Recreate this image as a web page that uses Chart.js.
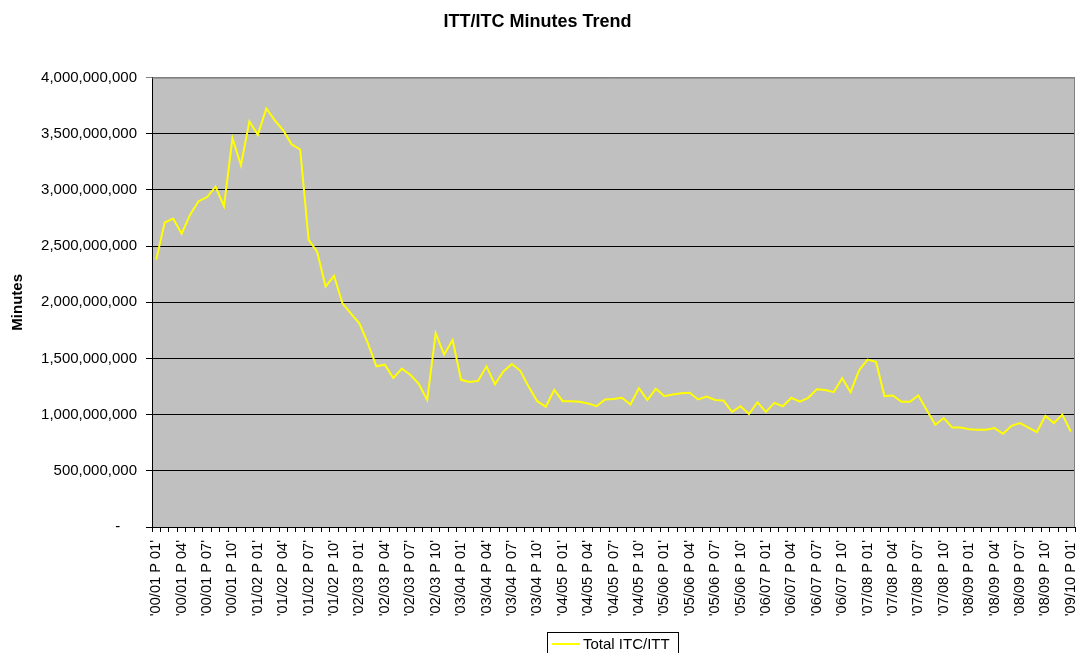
<!DOCTYPE html>
<html>
<head>
<meta charset="utf-8">
<title>ITT/ITC Minutes Trend</title>
<script src="https://cdn.jsdelivr.net/npm/chart.js@4"></script>
<style>
  html, body { margin: 0; padding: 0; background: #fff; }
  canvas { display: block; }
</style>
</head>
<body>
<canvas id="minutesChart" width="1077" height="653"></canvas>
<script>
// fiscal years, 12 periods each (last year only has P 01 so far)
const fiscalYears = ["00/01", "01/02", "02/03", "03/04", "04/05", "05/06", "06/07", "07/08", "08/09", "09/10"];
const periodNumbers = ["01", "02", "03", "04", "05", "06", "07", "08", "09", "10", "11", "12"];

// total ITC/ITT minutes per period
const totalMinutes = [
  2380e6, 2710e6, 2745e6, 2610e6, 2780e6, 2900e6, 2935e6, 3030e6, 2855e6, 3460e6, 3220e6, 3610e6,
  3490e6, 3725e6, 3620e6, 3530e6, 3405e6, 3360e6, 2555e6, 2450e6, 2140e6, 2235e6, 1990e6, 1900e6,
  1810e6, 1635e6, 1430e6, 1445e6, 1325e6, 1410e6, 1355e6, 1275e6, 1130e6, 1725e6, 1535e6, 1665e6,
  1310e6, 1290e6, 1300e6, 1430e6, 1270e6, 1385e6, 1450e6, 1390e6, 1245e6, 1120e6, 1070e6, 1220e6,
  1120e6, 1120e6, 1115e6, 1100e6, 1075e6, 1135e6, 1140e6, 1150e6, 1090e6, 1235e6, 1130e6, 1230e6,
  1165e6, 1180e6, 1190e6, 1195e6, 1135e6, 1160e6, 1130e6, 1125e6, 1025e6, 1075e6, 1005e6, 1110e6,
  1025e6, 1105e6, 1075e6, 1150e6, 1115e6, 1150e6, 1225e6, 1220e6, 1200e6, 1325e6, 1200e6, 1395e6,
  1490e6, 1470e6, 1165e6, 1170e6, 1115e6, 1115e6, 1170e6, 1040e6, 910e6, 970e6, 885e6, 885e6,
  870e6, 865e6, 865e6, 880e6, 830e6, 900e6, 925e6, 885e6, 845e6, 990e6, 925e6, 1000e6,
  850e6
];

const yTicks = [0, 500e6, 1000e6, 1500e6, 2000e6, 2500e6, 3000e6, 3500e6, 4000e6];

let periodLabels = [];
fiscalYears.forEach((fy) => {
  periodNumbers.forEach((p) => {
    if (periodLabels.length < totalMinutes.length) {
      periodLabels.push("'" + fy + " P " + p + "'");
    }
  });
});

const fontFamily = "'Liberation Sans', Arial, Helvetica, sans-serif";

// grey plot area + grey frame on top/right
const plotArea = {
  id: "plotArea",
  beforeDraw(chart) {
    const { ctx, chartArea: a } = chart;
    ctx.save();
    ctx.fillStyle = "#c0c0c0";
    ctx.fillRect(a.left, a.top, a.right - a.left, a.bottom - a.top);
    ctx.restore();
  },
  beforeDatasetsDraw(chart) {
    const { ctx, chartArea: a } = chart;
    ctx.save();
    ctx.strokeStyle = "#808080";
    ctx.lineWidth = 1;
    ctx.beginPath();
    ctx.moveTo(a.left, a.top + 0.5);
    ctx.lineTo(Math.round(a.right) - 0.5, a.top + 0.5);
    ctx.lineTo(Math.round(a.right) - 0.5, a.bottom);
    ctx.stroke();
    ctx.restore();
  }
};

// boxed legend under the axis labels
const boxedLegend = {
  id: "boxedLegend",
  afterDraw(chart) {
    const { ctx } = chart;
    const ds = chart.data.datasets[0];
    const x = 547, y = 632, w = 131, h = 28;
    ctx.save();
    ctx.fillStyle = "#fff";
    ctx.fillRect(x, y, w, h);
    ctx.strokeStyle = "#000";
    ctx.lineWidth = 1;
    ctx.strokeRect(x + 0.5, y + 0.5, w, h);
    ctx.strokeStyle = ds.borderColor;
    ctx.lineWidth = 2;
    ctx.beginPath();
    ctx.moveTo(552, 644);
    ctx.lineTo(580, 644);
    ctx.stroke();
    ctx.fillStyle = "#000";
    ctx.font = "15px " + fontFamily;
    ctx.textBaseline = "middle";
    ctx.fillText(ds.label, 583, 645);
    ctx.restore();
  }
};

new Chart(document.getElementById("minutesChart"), {
  type: "line",
  data: {
    labels: periodLabels,
    datasets: [
      {
        label: "Total ITC/ITT",
        data: totalMinutes,
        borderColor: "#ffff00",
        backgroundColor: "#ffff00",
        borderWidth: 2,
        pointRadius: 0,
        tension: 0,
        fill: false,
      },
    ],
  },
  options: {
    responsive: false,
    animation: false,
    layout: { padding: { left: 0, right: 2, top: 0, bottom: 0 } },
    plugins: {
      legend: { display: false },
      tooltip: { enabled: false },
      title: {
        display: true,
        text: "ITT/ITC Minutes Trend",
        color: "#000",
        font: { family: fontFamily, size: 18, weight: "bold" },
        padding: { top: 11, bottom: 45 },
      },
    },
    scales: {
      x: {
        offset: true,
        grid: {
          offset: true,
          drawOnChartArea: false,
          drawTicks: true,
          tickLength: 5,
          color: "#000",
        },
        border: { display: true, color: "#000", width: 1 },
        ticks: {
          autoSkip: false,
          minRotation: 90,
          maxRotation: 90,
          padding: 8,
          color: "#000",
          font: { family: fontFamily, size: 14.6 },
          callback: (value, index) => (index % 3 === 0 ? periodLabels[index] : ""),
        },
        afterFit: (scale) => {
          scale.height = 126;
          scale.paddingLeft = 0;
          scale.paddingRight = 0;
        },
      },
      y: {
        min: 0,
        max: 4000e6,
        afterBuildTicks: (scale) => { scale.ticks = yTicks.map((v) => ({ value: v })); },
        grid: {
          color: (c) => (c.tick && c.tick.value === 4000e6 ? "#808080" : "#000"),
          tickLength: 6,
        },
        border: { display: true, color: "#000", width: 1 },
        ticks: {
          padding: 9,
          color: "#000",
          font: { family: fontFamily, size: 15 },
          callback: (value) => (value === 0 ? "-    " : value.toLocaleString("en-US")),
        },
        title: {
          display: true,
          text: "Minutes",
          color: "#000",
          font: { family: fontFamily, size: 15, weight: "bold" },
          padding: { top: 9, bottom: 0 },
        },
        afterFit: (scale) => { scale.width = 152; },
      },
    },
  },
  plugins: [plotArea, boxedLegend],
});
</script>
</body>
</html>
